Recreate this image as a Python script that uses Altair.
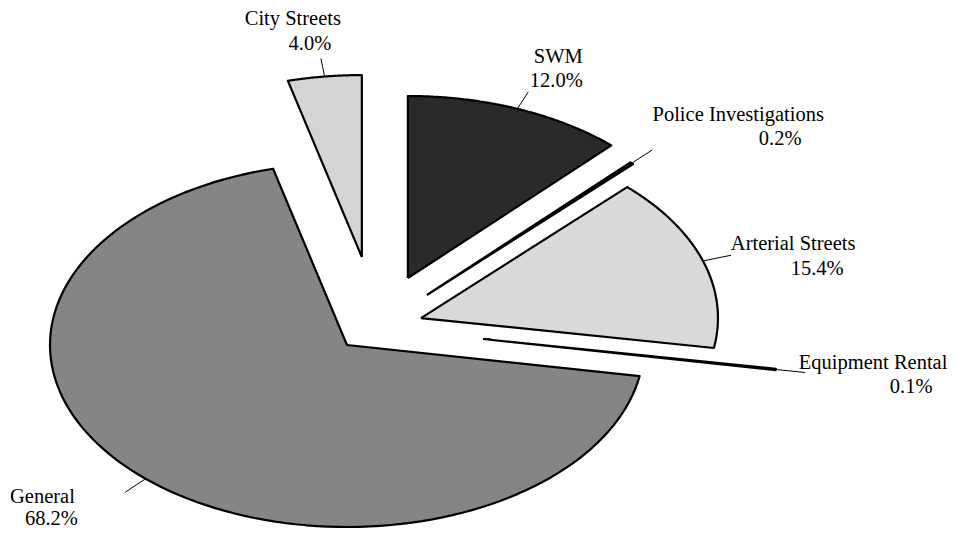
import altair as alt
import pandas as pd

# ---------------- data (clockwise from 12 o'clock) ----------------
categories = ["SWM", "Police Investigations", "Arterial Streets",
              "Equipment Rental", "General", "City Streets"]
shares = [12.0, 0.2, 15.4, 0.1, 68.2, 4.0]
pct_labels = ["12.0%", "0.2%", "15.4%", "0.1%", "68.2%", "4.0%"]

# ---------------- style / layout ----------------
fills = ["#2a2a2a", "#101010", "#d9d9d9", "#101010", "#858585", "#d4d4d4"]
# explode offset of each slice, in pie-radius units (x, y-up)
explode = {
    "SWM": (0.205, 0.368),
    "Police Investigations": (0.269, 0.275),
    "Arterial Streets": (0.249, 0.148),
    "Equipment Rental": (0.458, 0.033),
    "General": (0.0, 0.0),
    "City Streets": (0.050, 0.483),
}
# label offsets from leader end, pixels (dx, dy-down): name line, percent line
label_off = {
    "SWM": ((30, -29), (28, -5)),
    "Police Investigations": ((86, -29), (128, -5)),
    "Arterial Streets": ((62, -5), (86, 20)),
    "Equipment Rental": ((68, -4), (106, 20)),
    "General": ((-83, 11), (-74, 33)),
    "City Streets": ((-28, -33), (-11, -8)),
}

W, H = 942, 524
RX, RY = 297.0, 182.0          # pixel radii of the tilted (elliptical) pie
CX, CY = 339.0, 337.0          # pie centre in plot pixels
N = 120                        # points per arc

x_dom = [-CX / RX, (W - CX) / RX]
y_dom = [(CY - H) / RY, CY / RY]
xs = alt.Scale(domain=x_dom, nice=False, zero=False)
ys = alt.Scale(domain=y_dom, nice=False, zero=False)

df = pd.DataFrame({
    "idx": list(range(len(categories))),
    "name": categories,
    "share": shares,
    "pct": pct_labels,
    "ex": [explode[c][0] for c in categories],
    "ey": [explode[c][1] for c in categories],
    "ndx": [label_off[c][0][0] / RX for c in categories],
    "ndy": [-label_off[c][0][1] / RY for c in categories],
    "pdx": [label_off[c][1][0] / RX for c in categories],
    "pdy": [-label_off[c][1][1] / RY for c in categories],
})

base = alt.Chart(df).transform_joinaggregate(
    total="sum(share)"
).transform_window(
    cum="sum(share)", sort=[alt.SortField("idx")], frame=[None, 0]
).transform_calculate(
    a0="2*PI*(datum.cum - datum.share)/datum.total",
    a1="2*PI*datum.cum/datum.total",
).transform_calculate(
    am="(datum.a0 + datum.a1)/2"
).transform_calculate(
    lx1="datum.ex + sin(datum.am)",
    ly1="datum.ey + cos(datum.am)",
    lx2="datum.ex + 1.1*sin(datum.am)",
    ly2="datum.ey + 1.1*cos(datum.am)",
)

slices = base.transform_calculate(
    k=f"sequence(0, {N + 3})"
).transform_flatten(["k"]).transform_calculate(
    edge=f"(datum.k == 0 || datum.k == {N + 2}) ? 0 : 1",
    ang=f"datum.a0 + (datum.a1 - datum.a0) * (datum.k - 1) / {N}",
).transform_calculate(
    px="datum.ex + datum.edge * sin(datum.ang)",
    py="datum.ey + datum.edge * cos(datum.ang)",
).mark_line(
    filled=True, stroke="black", strokeWidth=2.2, interpolate="linear",
    strokeJoin="round"
).encode(
    x=alt.X("px:Q", scale=xs, axis=None),
    y=alt.Y("py:Q", scale=ys, axis=None),
    order=alt.Order("k:Q"),
    detail="name:N",
    color=alt.Color("name:N", scale=alt.Scale(domain=categories, range=fills), legend=None),
)

leaders = base.mark_rule(color="black", strokeWidth=1).encode(
    x=alt.X("lx1:Q", scale=xs, axis=None),
    y=alt.Y("ly1:Q", scale=ys, axis=None),
    x2="lx2:Q",
    y2="ly2:Q",
)

txt_style = dict(font="'Liberation Serif', 'Times New Roman', 'DejaVu Serif', serif",
                 fontSize=20.5, color="black", align="center", baseline="alphabetic")

names = base.transform_calculate(
    tx="datum.lx2 + datum.ndx", ty="datum.ly2 + datum.ndy"
).mark_text(**txt_style).encode(
    x=alt.X("tx:Q", scale=xs, axis=None),
    y=alt.Y("ty:Q", scale=ys, axis=None),
    text="name:N",
)

pcts = base.transform_calculate(
    tx="datum.lx2 + datum.pdx", ty="datum.ly2 + datum.pdy"
).mark_text(**txt_style).encode(
    x=alt.X("tx:Q", scale=xs, axis=None),
    y=alt.Y("ty:Q", scale=ys, axis=None),
    text="pct:N",
)

chart = alt.layer(slices, leaders, names, pcts).properties(
    width=W, height=H, padding=0, autosize=alt.AutoSizeParams(type="none"),
    background="white",
).configure_view(stroke=None)

chart.save("out.html", embed_options={"renderer": "svg", "actions": False})
